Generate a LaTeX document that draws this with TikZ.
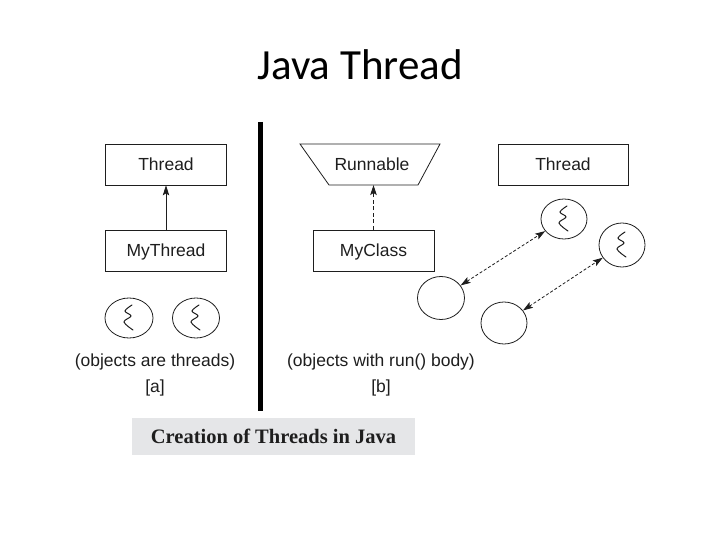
\documentclass[tikz,border=0pt]{standalone}
\usepackage{fontspec}
\setmainfont{Liberation Sans}
\newfontfamily\titlefont{Carlito}
\newfontfamily\capfont{Liberation Serif}
\usetikzlibrary{arrows.meta,shapes.geometric}
\definecolor{ink}{HTML}{1E1E1E}
\definecolor{capbg}{HTML}{E5E6E8}
\begin{document}
\begin{tikzpicture}[x=1pt,y=-1pt,
  box/.style={draw=ink, line width=0.8pt, minimum width=121pt, minimum height=41pt, inner sep=0pt, text height=14pt, text depth=2pt, font=\fontsize{17.5}{20}\selectfont, text=ink},
  obj/.style={draw=ink, line width=0.8pt, ellipse, inner sep=0pt},
  lbl/.style={font=\fontsize{17.5}{20}\selectfont, text=ink, inner sep=0pt, text height=14pt, text depth=2pt},
  inh/.style={-{Stealth[length=10pt,width=6.5pt,inset=2pt]}, line width=0.8pt, draw=ink},
  link/.style={{Stealth[length=10pt,width=6.5pt,inset=2pt]}-{Stealth[length=10pt,width=6.5pt,inset=2pt]}, dash pattern=on 3pt off 2pt, line width=0.8pt, draw=ink},
  squig/.pic={\draw[line width=1pt, draw=ink, line cap=round] plot[smooth, tension=0.6] coordinates {(3,-13) (-4,-7) (2,-2) (-5,4) (4,12)};}
]
\useasboundingbox (0,0) rectangle (720,540);

% title
\node[font=\titlefont\fontsize{43}{50}\selectfont, anchor=base, inner sep=0pt] (title) at (360,80) {Java Thread};

% divider
\coordinate (divT) at (260.5,122);
\coordinate (divB) at (260.5,411);
\draw[line width=5pt] (divT) -- (divB);

% ---- part [a]
\node[box] (thrA) at (166,164.5) {Thread};
\node[box] (mythr) at (166,250.5) {MyThread};
\draw[inh] (mythr.north) -- (thrA.south);

\node[obj, minimum width=48pt, minimum height=40pt] (oa1) at (129,318) {};
\node[obj, minimum width=47pt, minimum height=40pt] (oa2) at (196,318) {};
\pic at (oa1.center) {squig};
\pic at (oa2.center) {squig};

\node[lbl] (capa) at (155,360) {(objects are threads)};
\node[lbl] (taga) at (155,386) {[a]};

% ---- part [b]
\draw[draw=ink, line width=0.8pt] (300,144) -- (440,144) -- (418,185) -- (329,185) -- cycle;
\node[lbl] (run) at (372,164.5) {Runnable};
\coordinate (runB) at (373.5,185);
\node[box] (mycls) at (373.5,250.5) {MyClass};
\draw[inh, dash pattern=on 4pt off 2.5pt] (mycls.north) -- (runB);

\node[box, minimum width=130pt] (thrB) at (563,164.5) {Thread};

\node[obj, minimum width=46pt, minimum height=40pt] (t1) at (564,219) {};
\node[obj, minimum width=46pt, minimum height=44pt] (t2) at (622,245) {};
\pic at (t1.center) {squig};
\pic at (t2.center) {squig};

\node[obj, minimum width=47pt, minimum height=43pt] (e1) at (441,298) {};
\node[obj, minimum width=46pt, minimum height=42pt] (e2) at (504,323) {};

\draw[link] (e1) -- (t1);
\draw[link] (e2) -- (t2);

\node[lbl] (capb) at (381,360) {(objects with run() body)};
\node[lbl] (tagb) at (381,386) {[b]};

% caption
\node[fill=capbg, minimum width=283pt, minimum height=37pt, inner sep=0pt,
      font=\capfont\bfseries\fontsize{20.5}{24}\selectfont, text=ink] (cap) at (273.5,436.5)
      {Creation of Threads in Java};
\end{tikzpicture}
\end{document}
